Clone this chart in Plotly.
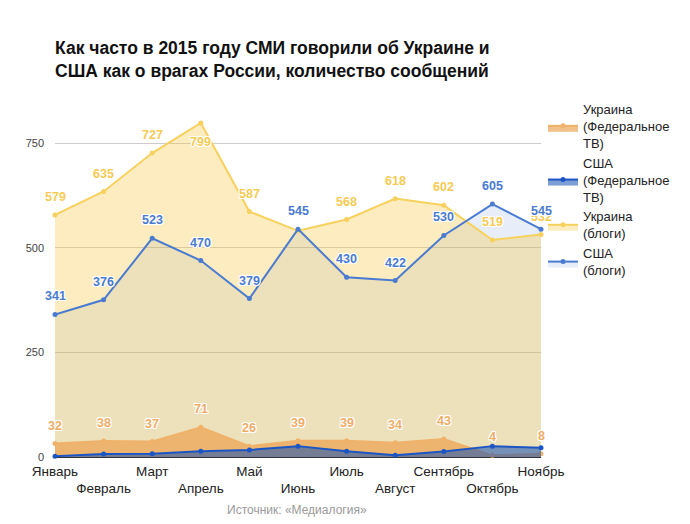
import plotly.graph_objects as go

months = ["Январь", "Февраль", "Март", "Апрель", "Май", "Июнь", "Июль",
          "Август", "Сентябрь", "Октябрь", "Ноябрь"]
ukr_tv = [32, 38, 37, 71, 26, 39, 39, 34, 43, 4, 8]
usa_tv = [2, 7, 8, 14, 17, 26, 14, 4, 13, 26, 22]
ukr_blogs = [579, 635, 727, 799, 587, 541, 568, 618, 602, 519, 532]
usa_blogs = [341, 376, 523, 470, 379, 545, 430, 422, 530, 605, 545]
yticks = [0, 250, 500, 750]

x = list(range(len(months)))
ticktext = [m if i % 2 == 0 else "<br>" + m for i, m in enumerate(months)]

FONT = "Liberation Sans, Arial, sans-serif"
HALO = "-1px -1px 0 #fff, 1px -1px 0 #fff, -1px 1px 0 #fff, 1px 1px 0 #fff, 0 0 2px #fff"

L, R, T, B = 55, 149, 110, 67
W, H = 690, 524
pw, ph = W - L - R, H - T - B

C_UKR_BLOG = "#f7d15e"
C_USA_BLOG = "#4a7bd0"
C_UKR_TV = "#f0b26b"
C_USA_TV = "#1b55c4"
F_UKR_BLOG = "rgba(245,200,70,0.34)"
F_USA_BLOG = "rgba(74,123,208,0.13)"
F_UKR_TV = "rgba(235,150,60,0.6)"
F_USA_TV = "rgba(20,80,180,0.55)"

fig = go.Figure()

# USA blogs fill (drawn first, beneath the Ukraine blogs fill)
fig.add_trace(go.Scatter(x=x, y=usa_blogs, mode="none", fill="tozeroy",
                         fillcolor=F_USA_BLOG, showlegend=False, hoverinfo="skip"))
# Ukraine blogs
fig.add_trace(go.Scatter(x=x, y=ukr_blogs, name="Украина<br>(блоги)", mode="lines+markers",
                         line=dict(color=C_UKR_BLOG, width=2), marker=dict(color=C_UKR_BLOG, size=5),
                         fill="tozeroy", fillcolor=F_UKR_BLOG, legendrank=3,
                         cliponaxis=False, hoverinfo="skip"))
# USA blogs line
fig.add_trace(go.Scatter(x=x, y=usa_blogs, mode="lines+markers", showlegend=False,
                         line=dict(color=C_USA_BLOG, width=2), marker=dict(color=C_USA_BLOG, size=5),
                         cliponaxis=False, hoverinfo="skip"))
# USA blogs legend entry
fig.add_trace(go.Scatter(x=[None], y=[None], name="США<br>(блоги)", mode="lines+markers",
                         line=dict(color=C_USA_BLOG, width=2), marker=dict(color=C_USA_BLOG, size=5),
                         fill="tozeroy", fillcolor=F_USA_BLOG, legendrank=4, hoverinfo="skip"))
# Ukraine federal TV
fig.add_trace(go.Scatter(x=x, y=ukr_tv, name="Украина<br>(Федеральное<br>ТВ)", mode="lines+markers",
                         line=dict(color=C_UKR_TV, width=2), marker=dict(color=C_UKR_TV, size=5),
                         fill="tozeroy", fillcolor=F_UKR_TV, legendrank=1,
                         cliponaxis=False, hoverinfo="skip"))
# USA federal TV
fig.add_trace(go.Scatter(x=x, y=usa_tv, name="США<br>(Федеральное<br>ТВ)", mode="lines+markers",
                         line=dict(color=C_USA_TV, width=2), marker=dict(color=C_USA_TV, size=5),
                         fill="tozeroy", fillcolor=F_USA_TV, legendrank=2,
                         cliponaxis=False, hoverinfo="skip"))

annotations = []
for vals, tc, hidden in [(ukr_blogs, "#f5cb55", {5}), (usa_blogs, "#4a7bd0", set()),
                         (ukr_tv, "#f0ad68", set())]:
    for i, v in enumerate(vals):
        if i in hidden:  # label fully covered by the США label in the original
            continue
        below = (vals is ukr_blogs and i == 3)
        annotations.append(dict(
            x=i, y=v, xref="x", yref="y", text=str(v), showarrow=False,
            yshift=-19 if below else 18,
            font=dict(family=FONT, size=12.5, color=tc, weight="bold", shadow=HALO),
        ))

annotations.append(dict(
    x=(297 - L) / pw, y=(H - B - 510) / ph, xref="paper", yref="paper",
    xanchor="center", yanchor="middle",
    text="Источник: «Медиалогия»", showarrow=False,
    font=dict(family=FONT, size=12, color="#9a9a9a"),
))

fig.update_layout(
    width=W, height=H,
    margin=dict(l=L, r=R, t=T, b=B, autoexpand=False),
    paper_bgcolor="white", plot_bgcolor="white",
    font=dict(family=FONT, color="#222"),
    title=dict(
        text="Как часто в 2015 году СМИ говорили об Украине и<br>США как о врагах России, количество сообщений",
        x=L / W, xanchor="left", xref="container",
        y=1 - 54 / H, yanchor="top", yref="container",
        font=dict(family=FONT, size=17.5, color="#111", weight="bold"),
    ),
    xaxis=dict(
        range=[0, 10], tickvals=x, ticktext=ticktext, showgrid=False,
        zeroline=False, showline=False, ticks="", tickangle=0, automargin=False,
        tickfont=dict(family=FONT, size=13.5, color="#222"), ticklabelstandoff=4,
    ),
    yaxis=dict(
        range=[0, 830], tickvals=yticks, showgrid=True, gridcolor="#cccccc",
        zeroline=True, zerolinecolor="#333333", zerolinewidth=1, automargin=False,
        ticks="", tickfont=dict(family=FONT, size=11, color="#444"),
        ticklabelstandoff=10,
    ),
    legend=dict(
        x=(543 - L) / pw, y=(H - B - 94) / ph, xanchor="left", yanchor="top",
        font=dict(family=FONT, size=13, color="#222"),
        itemwidth=30, tracegroupgap=4, bgcolor="rgba(0,0,0,0)",
    ),
    annotations=annotations,
    showlegend=True,
)

fig.write_html("out.html")
